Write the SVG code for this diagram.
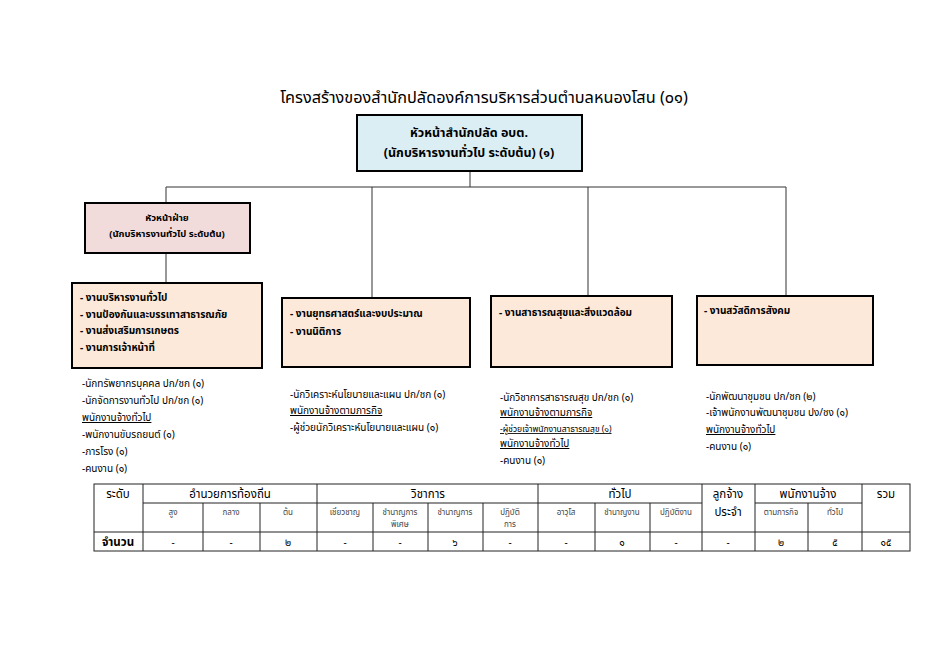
<svg xmlns="http://www.w3.org/2000/svg" width="950" height="672" viewBox="0 0 950 672">
<style>
text{font-family:"Noto Sans Thai","Tahoma","Loma","Garuda","Liberation Sans",sans-serif;fill:#000}
.t{font-size:16.3px}
.b{font-weight:bold}
.box{stroke:#000;stroke-width:2}
.c{stroke:#333;stroke-width:1;fill:none}
.s{font-size:10px}
.u{text-decoration:underline}
.tl{stroke:#222;stroke-width:1;fill:none}
.th{font-size:11.5px;text-anchor:middle}
.ts{font-size:8px;text-anchor:middle;fill:#444}
.tv{font-size:10px;text-anchor:middle}
</style>
<rect width="950" height="672" fill="#fff"/>
<text class="t" x="484" y="103" text-anchor="middle">โครงสร้างของสำนักปลัดองค์การบริหารส่วนตำบลหนองโสน (๐๑)</text>
<g id="connectors">
<path class="c" d="M470 171V187M166 187H786M166 187V203M372 187V298M588 187V296M786 187V296M166 253V283"/>
</g>
<g id="n-head">
<rect class="box" x="357" y="115" width="225" height="56" fill="#dbeef3"/>
<text class="b" x="469" y="137" font-size="12.5" text-anchor="middle">หัวหน้าสำนักปลัด  อบต.</text>
<text class="b" x="469" y="157" font-size="12.5" text-anchor="middle">(นักบริหารงานทั่วไป ระดับต้น) (๑)</text>
</g>
<g id="n-sub">
<rect class="box" x="85" y="203" width="165" height="50" fill="#f2dcdb"/>
<text class="b" x="167" y="221" font-size="9.5" text-anchor="middle">หัวหน้าฝ่าย</text>
<text class="b" x="167" y="237" font-size="9.5" text-anchor="middle">(นักบริหารงานทั่วไป ระดับต้น)</text>
</g>
<g id="n-1">
<rect class="box" x="72" y="283" width="190" height="85" fill="#fde9d9"/>
<text class="b s" x="80" y="301">- งานบริหารงานทั่วไป</text>
<text class="b s" x="80" y="318">- งานป้องกันและบรรเทาสาธารณภัย</text>
<text class="b s" x="80" y="334">- งานส่งเสริมการเกษตร</text>
<text class="b s" x="80" y="351">- งานการเจ้าหน้าที่</text>
</g>
<g id="n-2">
<rect class="box" x="282" y="298" width="188" height="69" fill="#fde9d9"/>
<text class="b s" x="290" y="317">- งานยุทธศาสตร์และงบประมาณ</text>
<text class="b s" x="290" y="335">- งานนิติการ</text>
</g>
<g id="n-3">
<rect class="box" x="491" y="296" width="181" height="71" fill="#fde9d9"/>
<text class="b s" x="499" y="316">- งานสาธารณสุขและสิ่งแวดล้อม</text>
</g>
<g id="n-4">
<rect class="box" x="697" y="296" width="176" height="69" fill="#fde9d9"/>
<text class="b s" x="704" y="314">- งานสวัสดิการสังคม</text>
</g>
<g id="staff-1">
<text class="s" x="82" y="387">-นักทรัพยากรบุคคล  ปก/ชก (๑)</text>
<text class="s" x="82" y="404">-นักจัดการงานทั่วไป ปก/ชก (๑)</text>
<text class="s u" x="82" y="421">พนักงานจ้างทั่วไป</text>
<text class="s" x="82" y="438">-พนักงานขับรถยนต์ (๑)</text>
<text class="s" x="82" y="455">-ภารโรง (๑)</text>
<text class="s" x="82" y="472">-คนงาน (๑)</text>
</g>
<g id="staff-2">
<text class="s" x="290" y="398">-นักวิเคราะห์นโยบายและแผน ปก/ชก (๑)</text>
<text class="s u" x="290" y="414">พนักงานจ้างตามภารกิจ</text>
<text class="s" x="290" y="431">-ผู้ช่วยนักวิเคราะห์นโยบายและแผน  (๑)</text>
</g>
<g id="staff-3">
<text class="s" x="500" y="401">-นักวิชาการสาธารณสุข ปก/ชก (๑)</text>
<text class="s u" x="500" y="416">พนักงานจ้างตามภารกิจ</text>
<text class="u" x="500" y="432" font-size="8.5">-ผู้ช่วยเจ้าพนักงานสาธารณสุข (๑)</text>
<text class="s u" x="500" y="447">พนักงานจ้างทั่วไป</text>
<text class="s" x="500" y="464">-คนงาน (๑)</text>
</g>
<g id="staff-4">
<text class="s" x="706" y="400">-นักพัฒนาชุมชน ปก/ชก (๒)</text>
<text class="s" x="706" y="416">-เจ้าพนักงานพัฒนาชุมชน ปง/ชง (๑)</text>
<text class="s u" x="706" y="433">พนักงานจ้างทั่วไป</text>
<text class="s" x="706" y="450">-คนงาน   (๑)</text>
</g>
<g id="table">
<rect class="tl" x="94" y="484" width="816" height="67"/>
<path class="tl" d="M143 503H702M755 503H862M94 532H910M143 484V551M317 484V551M538 484V551M702 484V551M755 484V551M862 484V551M203 503V551M260 503V551M373 503V551M428 503V551M483 503V551M595 503V551M650 503V551M808 503V551"/>
<text class="th" x="118" y="498">ระดับ</text>
<text class="th" x="230" y="498">อำนวยการท้องถิ่น</text>
<text class="th" x="428" y="498">วิชาการ</text>
<text class="th" x="620" y="498">ทั่วไป</text>
<text class="th" x="728" y="498">ลูกจ้าง</text>
<text class="th" x="728" y="516">ประจำ</text>
<text class="th" x="808" y="498">พนักงานจ้าง</text>
<text class="th" x="886" y="498">รวม</text>
<text class="ts" x="173" y="515">สูง</text>
<text class="ts" x="231" y="515">กลาง</text>
<text class="ts" x="288" y="515">ต้น</text>
<text class="ts" x="345" y="515">เชี่ยวชาญ</text>
<text class="ts" x="400" y="515">ชำนาญการ</text>
<text class="ts" x="400" y="527">พิเศษ</text>
<text class="ts" x="455" y="515">ชำนาญการ</text>
<text class="ts" x="510" y="515">ปฏิบัติ</text>
<text class="ts" x="510" y="527">การ</text>
<text class="ts" x="566" y="515">อาวุโส</text>
<text class="ts" x="622" y="515">ชำนาญงาน</text>
<text class="ts" x="676" y="515">ปฏิบัติงาน</text>
<text class="ts" x="781" y="515">ตามภารกิจ</text>
<text class="ts" x="835" y="515">ทั่วไป</text>
<text class="th b" x="118" y="546" font-size="11">จำนวน</text>
<text class="tv" x="173" y="546">-</text>
<text class="tv" x="231" y="546">-</text>
<text class="tv" x="288" y="546">๒</text>
<text class="tv" x="345" y="546">-</text>
<text class="tv" x="400" y="546">-</text>
<text class="tv" x="455" y="546">๖</text>
<text class="tv" x="510" y="546">-</text>
<text class="tv" x="566" y="546">-</text>
<text class="tv" x="622" y="546">๑</text>
<text class="tv" x="676" y="546">-</text>
<text class="tv" x="728" y="546">-</text>
<text class="tv" x="781" y="546">๒</text>
<text class="tv" x="835" y="546">๕</text>
<text class="tv" x="886" y="546">๑๕</text>
</g>
</svg>
